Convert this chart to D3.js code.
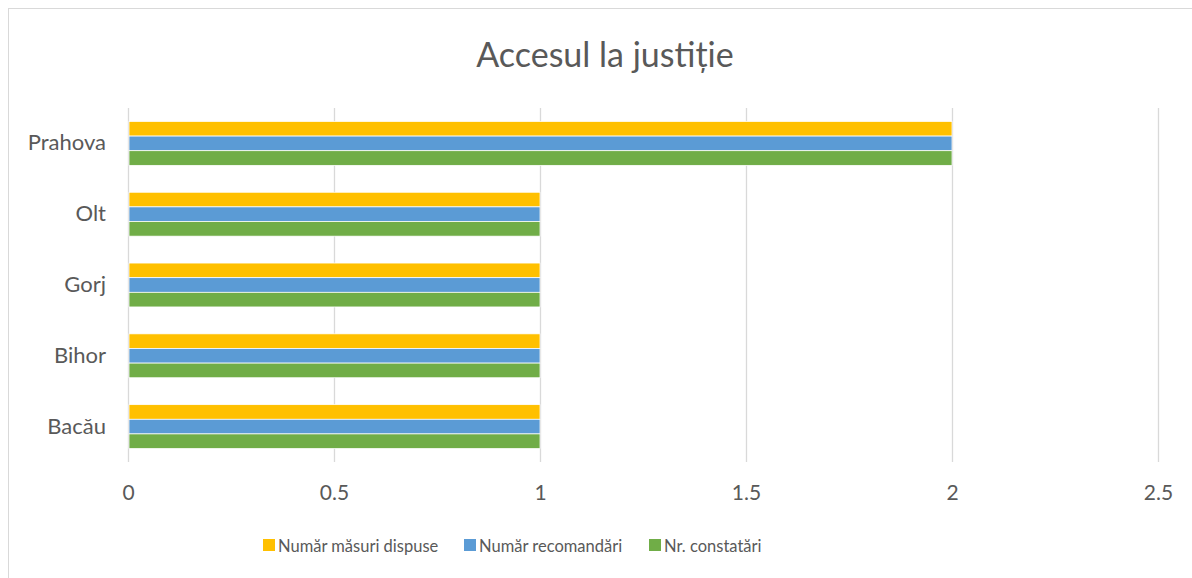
<!DOCTYPE html>
<html>
<head>
<meta charset="utf-8">
<script src="https://cdn.jsdelivr.net/npm/d3@7"></script>
<style>
  body { margin: 0; background: #fff; }
  svg { display: block; }
</style>
</head>
<body>
<div id="chart"></div>
<script>
// data
const categories = ['Prahova', 'Olt', 'Gorj', 'Bihor', 'Bacău'];
const seriesNames = ['Număr măsuri dispuse', 'Număr recomandări', 'Nr. constatări'];
const masuri = [2, 1, 1, 1, 1];
const recomandari = [2, 1, 1, 1, 1];
const constatari = [2, 1, 1, 1, 1];
const xTicks = [0, 0.5, 1, 1.5, 2, 2.5];
const colors = ['#FFC000', '#5B9BD5', '#70AD47'];

const width = 1192;
const height = 578;
const margin = { top: 108, right: 34, bottom: 116, left: 128 };
const fontFam = 'Lato, "Open Sans", sans-serif';
const textColor = '#595959';

const rows = categories.map((c, i) => ({
  cat: c,
  vals: [masuri[i], recomandari[i], constatari[i]],
}));

const svg = d3
  .select('#chart')
  .append('svg')
  .attr('width', width)
  .attr('height', height);

// chart border (runs off the right and bottom of the window)
svg
  .append('rect')
  .attr('x', 8.5)
  .attr('y', 8.5)
  .attr('width', width + 20)
  .attr('height', height + 20)
  .attr('fill', '#fff')
  .attr('stroke', '#d9d9d9')
  .attr('stroke-width', 1);

const xScale = d3
  .scaleLinear()
  .domain([0, 2.5])
  .range([margin.left, width - margin.right]);

const yScale = d3
  .scaleBand()
  .domain(categories)
  .range([margin.top, height - margin.bottom])
  .paddingInner(0.38)
  .paddingOuter(0.19);

const ySub = d3
  .scaleBand()
  .domain(d3.range(seriesNames.length))
  .range([0, yScale.bandwidth()]);

// vertical grid lines
const gridLines = d3
  .axisBottom(xScale)
  .tickValues(xTicks)
  .tickSize(-(height - margin.bottom - margin.top))
  .tickFormat('');

svg
  .append('g')
  .attr('transform', `translate(0,${height - margin.bottom})`)
  .call(gridLines)
  .call((g) => g.select('.domain').remove())
  .selectAll('line')
  .attr('stroke', '#d9d9d9')
  .attr('stroke-width', 1.3);

// bars
const groups = svg
  .selectAll('g.barGroup')
  .data(rows)
  .join('g')
  .attr('class', 'barGroup')
  .attr('transform', (d) => `translate(0,${yScale(d.cat)})`);

groups
  .selectAll('rect')
  .data((d) => d.vals.map((v, i) => ({ v, i })))
  .join('rect')
  .attr('x', xScale(0) + 1)
  .attr('y', (d) => ySub(d.i))
  .attr('width', (d) => xScale(d.v) - xScale(0) - 1)
  .attr('height', ySub.bandwidth())
  .attr('fill', (d) => colors[d.i])
  .attr('stroke', '#fff')
  .attr('stroke-width', 0.75);

// x axis labels
const xAxis = d3
  .axisBottom(xScale)
  .tickValues(xTicks)
  .tickSize(0)
  .tickPadding(23)
  .tickFormat((d) => String(d));

svg
  .append('g')
  .attr('transform', `translate(0,${height - margin.bottom})`)
  .call(xAxis)
  .call((g) => g.select('.domain').remove())
  .selectAll('text')
  .attr('font-family', fontFam)
  .attr('font-size', 21)
  .attr('fill', textColor);

// y axis labels
const yAxis = d3.axisLeft(yScale).tickSize(0).tickPadding(22);

svg
  .append('g')
  .attr('transform', `translate(${margin.left},0)`)
  .call(yAxis)
  .call((g) => g.select('.domain').remove())
  .selectAll('text')
  .attr('font-family', fontFam)
  .attr('font-size', 22)
  .attr('fill', textColor);

// title
svg
  .append('text')
  .attr('x', 605)
  .attr('y', 67)
  .attr('text-anchor', 'middle')
  .attr('font-family', fontFam)
  .attr('font-size', 34)
  .attr('fill', textColor)
  .text('Accesul la justiție');

// legend
const legendX = [263, 464, 649];
const legend = svg
  .selectAll('g.legend')
  .data(seriesNames)
  .join('g')
  .attr('class', 'legend')
  .attr('transform', (d, i) => `translate(${legendX[i]},539)`);

legend
  .append('rect')
  .attr('width', 12)
  .attr('height', 12)
  .attr('fill', (d, i) => colors[i]);

legend
  .append('text')
  .attr('x', 15)
  .attr('y', 13)
  .attr('font-family', fontFam)
  .attr('font-size', 16.5)
  .attr('fill', textColor)
  .text((d) => d);
</script>
</body>
</html>
